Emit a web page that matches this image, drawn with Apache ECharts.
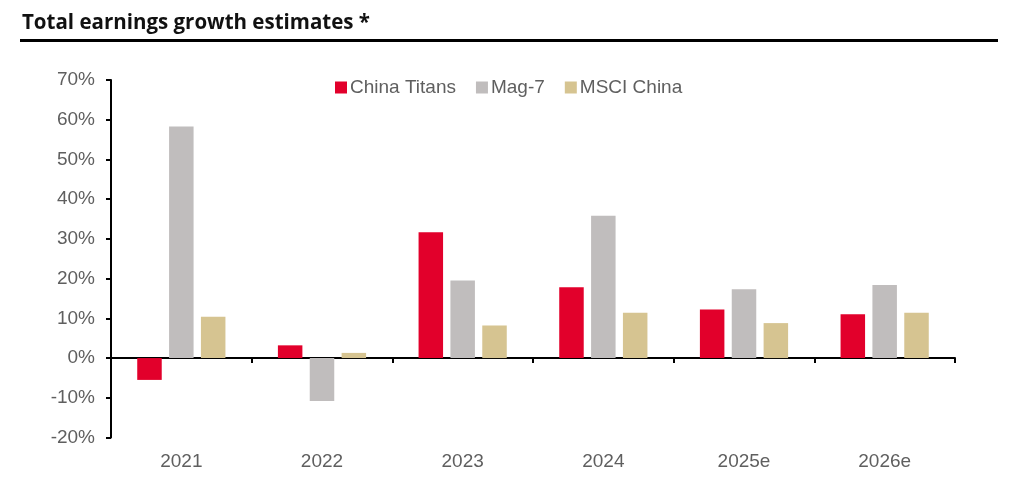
<!DOCTYPE html>
<html>
<head>
<meta charset="utf-8">
<script src="https://cdn.jsdelivr.net/npm/echarts@6/dist/echarts.min.js"></script>
<style>
html,body{margin:0;padding:0;background:#fff;}
#title{position:absolute;left:22px;top:7px;font-family:"Open Sans",sans-serif;font-weight:bold;font-size:20.5px;color:#111;letter-spacing:0px;}
#rule{position:absolute;left:20px;top:39px;width:978px;height:3px;background:#000;}
#chart{position:absolute;left:0;top:0;width:1013px;height:487px;}
</style>
</head>
<body>
<div id="chart"></div>
<div id="title">Total earnings growth estimates *</div>
<div id="rule"></div>
<script>
const categories = ['2021', '2022', '2023', '2024', '2025e', '2026e'];
const chinaTitans = [-5.5, 3.2, 31.7, 17.8, 12.2, 11.0];
const mag7 = [58.3, -10.8, 19.5, 35.8, 17.3, 18.4];
const msciChina = [10.4, 1.3, 8.2, 11.4, 8.8, 11.4];
const seriesNames = ['China Titans', 'Mag-7', 'MSCI China'];
const colors = ['#E2002B', '#C0BDBD', '#D6C491'];

const chart = echarts.init(document.getElementById('chart'));
const labelFont = {fontFamily: 'Liberation Sans, Arial, sans-serif', fontSize: 19, color: '#5f5f5f'};
chart.setOption({
  animation: false,
  grid: {left: 111, right: 58, top: 80, bottom: 49.5, containLabel: false},
  legend: {
    top: 73, left: 330,
    itemWidth: 12, itemHeight: 12, itemGap: 20,
    icon: 'rect',
    textStyle: Object.assign({}, labelFont, {padding: [0, 0, 0, -2]}),
    data: seriesNames
  },
  xAxis: [{
    type: 'category', data: categories,
    axisLine: {onZero: true, lineStyle: {color: '#000', width: 2}},
    axisTick: {show: true, length: 5, lineStyle: {color: '#000', width: 2}},
    axisLabel: {show: false}
  }, {
    type: 'category', data: categories, position: 'bottom',
    axisLine: {show: false}, axisTick: {show: false},
    axisLabel: Object.assign({}, labelFont, {margin: 15})
  }],
  yAxis: {
    type: 'value', min: -20, max: 70, interval: 10,
    axisLine: {show: true, lineStyle: {color: '#000', width: 2}},
    axisTick: {show: true, length: 5, lineStyle: {color: '#000', width: 2}},
    splitLine: {show: false},
    axisLabel: Object.assign({}, labelFont, {margin: 16, formatter: '{value}%'})
  },
  series: [chinaTitans, mag7, msciChina].map((d, i) => ({
    name: seriesNames[i], type: 'bar', data: d,
    barWidth: 24.5, barGap: '30%',
    itemStyle: {color: colors[i]}
  }))
});
</script>
</body>
</html>
